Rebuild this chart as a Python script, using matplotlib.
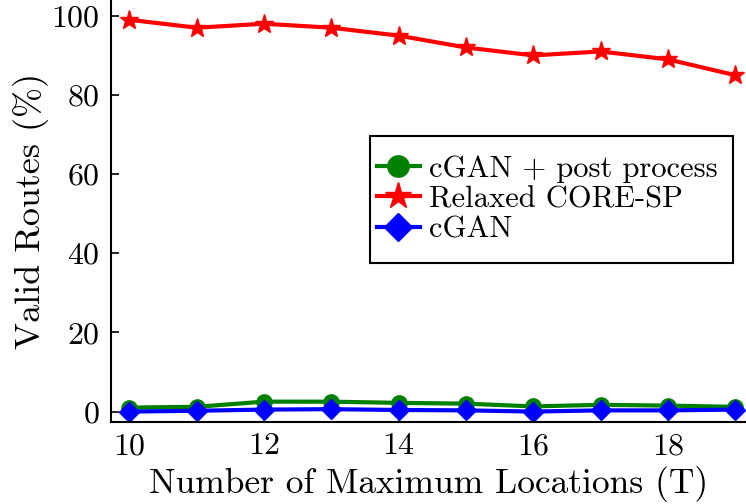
import matplotlib
matplotlib.use('Agg')
import matplotlib.pyplot as plt
from matplotlib.patches import Rectangle

plt.rcParams['font.family'] = 'serif'
plt.rcParams['font.serif'] = ['cmr10']
plt.rcParams['mathtext.fontset'] = 'cm'
plt.rcParams['axes.formatter.use_mathtext'] = True

T = [10, 11, 12, 13, 14, 15, 16, 17, 18, 19]
cgan_post = [1.0, 1.2, 2.5, 2.5, 2.2, 2.0, 1.3, 1.7, 1.5, 1.2]
relaxed_core_sp = [99, 97, 98, 97, 95, 92, 90, 91, 89, 85]
cgan = [0.0, 0.2, 0.5, 0.6, 0.4, 0.3, 0.0, 0.3, 0.3, 0.5]

fig = plt.figure(figsize=(7.46, 5.04), dpi=100)
ax = fig.add_axes([0.149, 0.163, 0.851, 0.837])

ax.plot(T, cgan_post, color='green', lw=3, marker='o', ms=11, label='cGAN + post process')
ax.plot(T, relaxed_core_sp, color='red', lw=3, marker='*', ms=14, label='Relaxed CORE-SP')
ax.plot(T, cgan, color='blue', lw=3, marker='D', ms=10, label='cGAN')

ax.set_xlim(9.73, 19.16)
ax.set_ylim(-2.6, 104)
ax.set_xticks([10, 12, 14, 16, 18])
ax.set_yticks([0, 20, 40, 60, 80, 100])
ax.spines['top'].set_visible(False)
ax.spines['right'].set_visible(False)
ax.spines['left'].set_linewidth(1.5)
ax.spines['bottom'].set_linewidth(1.5)
ax.tick_params(direction='in', length=6, width=1.2, labelsize=23, pad=8)

ax.set_xlabel('Number of Maximum Locations (T)', fontsize=25.5, labelpad=4)
ax.set_ylabel('Valid Routes (%)', fontsize=26, labelpad=2)

# legend box is drawn separately so it can have more room above/below the rows
box = Rectangle((0.408, 0.377), 0.572, 0.301, transform=ax.transAxes,
                facecolor='white', edgecolor='black', lw=1.5, zorder=4)
ax.add_patch(box)
leg = ax.legend(loc='center', bbox_to_anchor=(0.687, 0.5275), fontsize=22,
                frameon=False, markerscale=1.4,
                handlelength=1.4, handletextpad=0.3, borderpad=0, labelspacing=0.1,
                borderaxespad=0)
leg.set_zorder(5)

fig.savefig('out.png', dpi=100)
